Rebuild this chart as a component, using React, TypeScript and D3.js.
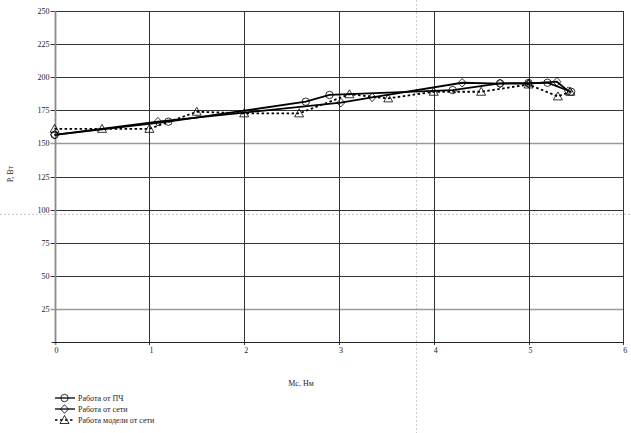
import React from "react";
import * as d3 from "d3";

// Series: Работа от ПЧ (circles)
const xPCh = [0, 1.2, 2.65, 2.9, 4.2, 4.7, 5.0, 5.2, 5.45];
const yPCh = [156.5, 166.4, 181.5, 186.6, 190.3, 195.4, 195.6, 195.8, 189];
// Series: Работа от сети (diamonds)
const xNet = [0, 1.09, 3.02, 3.35, 4.3, 4.7, 5.0, 5.3, 5.42];
const yNet = [156.5, 166.4, 180.8, 184.8, 195.8, 195.2, 195.2, 196.6, 189.5];
// Series: Работа модели от сети (triangles)
const xModel = [0, 0.5, 1.0, 1.5, 2.0, 2.58, 3.11, 3.52, 4.0, 4.5, 5.0, 5.31, 5.44];
const yModel = [161, 161, 161, 173.9, 172.7, 172.7, 187.1, 184, 189, 189, 194.5, 185.5, 189];

const xTicks = [0, 1, 2, 3, 4, 5, 6];
const yTicks = [25, 50, 75, 100, 125, 150, 175, 200, 225, 250];
const legendLabels = ["Работа от ПЧ", "Работа от сети", "Работа модели от сети"];
const xTitle = "Mc, Нм";
const yTitle = "P, Вт";

const W = 631;
const H = 433;
const FONT = "'Liberation Serif', 'DejaVu Serif', serif";

const x = d3.scaleLinear().domain([0, 6]).range([54.6, 623.3]);
const y = d3.scaleLinear().domain([0, 250]).range([342, 11]);

type Pt = [number, number];
const zip = (xs: number[], ys: number[]): Pt[] => xs.map((v, i) => [v, ys[i]]);

const line = d3
  .line<Pt>()
  .x((d) => x(d[0]))
  .y((d) => y(d[1]));

function Marker({ kind, cx, cy }: { kind: string; cx: number; cy: number }) {
  const st = { fill: "none", stroke: "#000", strokeWidth: 0.8 };
  if (kind === "circle") return <circle cx={cx} cy={cy} r={3.7} {...st} />;
  if (kind === "diamond")
    return (
      <path
        d={`M${cx},${cy - 4.3}L${cx + 4},${cy}L${cx},${cy + 4.3}L${cx - 4},${cy}Z`}
        {...st}
      />
    );
  return (
    <path
      d={`M${cx},${cy - 4.5}L${cx + 4.5},${cy + 3.5}L${cx - 4.5},${cy + 3.5}Z`}
      {...st}
    />
  );
}

const series = [
  { name: legendLabels[0], data: zip(xPCh, yPCh), kind: "circle", dash: undefined as string | undefined },
  { name: legendLabels[1], data: zip(xNet, yNet), kind: "diamond", dash: undefined as string | undefined },
  { name: legendLabels[2], data: zip(xModel, yModel), kind: "triangle", dash: "2.5,2.5" },
];

export default function App() {
  const px = (v: number) => Math.round(v) + 0.5;
  const grayLines = [25, 150];
  return (
    <svg
      width={W}
      height={H}
      style={{ position: "absolute", left: 0, top: 0, background: "#fff" }}
      fontFamily={FONT}
    >
      <rect x={0} y={0} width={W} height={H} fill="#fff" />
      {/* crosshair artifacts */}
      <line x1={0} x2={W} y1={214.5} y2={214.5} stroke="#c8c8c8" strokeDasharray="2,2" />
      <line x1={416.5} x2={416.5} y1={0} y2={H} stroke="#c8c8c8" strokeDasharray="2,2" />
      {/* grid */}
      {yTicks.map((t) => {
        const gray = grayLines.includes(t);
        return (
          <g key={"gy" + t}>
            <line
              x1={x(0) - 4}
              x2={x(6)}
              y1={px(y(t))}
              y2={px(y(t))}
              stroke={gray ? "#9a9a9a" : "#333"}
              strokeWidth={gray ? 1.6 : 1}
            />
            <text x={x(0) - 5} y={y(t) + 3} fontSize={8} textAnchor="end" fill="#222">
              {t}
            </text>
          </g>
        );
      })}
      {xTicks.map((t) => (
        <g key={"gx" + t}>
          <line x1={px(x(t))} x2={px(x(t))} y1={y(250)} y2={y(0) + 3} stroke="#333" strokeWidth={1} />
          <text x={x(t) + 2} y={353} fontSize={8} textAnchor="middle" fill="#222">
            {t}
          </text>
        </g>
      ))}
      {/* axes */}
      <line x1={px(x(0))} x2={px(x(0))} y1={y(250)} y2={y(0) + 3} stroke="#8a8a8a" strokeWidth={1.8} />
      <line x1={x(0) - 3} x2={x(6)} y1={px(y(0))} y2={px(y(0))} stroke="#222" strokeWidth={1} />
      {/* series */}
      {series.map((s) => (
        <g key={s.name}>
          <path d={line(s.data) || ""} fill="none" stroke="#000" strokeWidth={1.8} strokeDasharray={s.dash} />
          {s.data.map((d, i) => (
            <Marker key={i} kind={s.kind} cx={x(d[0])} cy={y(d[1])} />
          ))}
        </g>
      ))}
      {/* axis titles */}
      <text x={301} y={386} fontSize={8} textAnchor="middle" fill="#222">
        {xTitle}
      </text>
      <text transform="translate(13,174) rotate(-90)" fontSize={8} textAnchor="middle" fill="#222">
        {yTitle}
      </text>
      {/* legend */}
      {series.map((s, i) => {
        const ly = 398 + i * 11;
        return (
          <g key={"lg" + i}>
            <line x1={55} x2={75} y1={ly} y2={ly} stroke="#000" strokeWidth={1.3} strokeDasharray={s.dash} />
            <Marker kind={s.kind} cx={64.5} cy={ly} />
            <text x={78} y={ly + 3} fontSize={8} fill="#222">
              {s.name}
            </text>
          </g>
        );
      })}
    </svg>
  );
}
